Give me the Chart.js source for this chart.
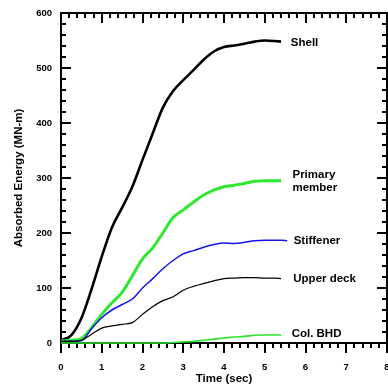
<!DOCTYPE html>
<html>
<head>
<meta charset="utf-8">
<script src="https://cdn.jsdelivr.net/npm/chart.js@4.4.0/dist/chart.umd.min.js"></script>
<style>
  html, body { margin: 0; padding: 0; background: #fff; }
  #wrap { width: 388px; height: 390px; }
</style>
</head>
<body>
<div id="wrap"><canvas id="chart" width="388" height="390"></canvas></div>
<script>
// time (sec)
const time = [0, 0.25, 0.5, 0.75, 1, 1.25, 1.5, 1.75, 2, 2.25, 2.5, 2.75, 3, 3.25, 3.5, 3.75, 4, 4.25, 4.5, 4.75, 5, 5.25, 5.4, 5.55];

// absorbed energy (MN-m)
const shell      = [5, 14, 45, 98, 157, 210, 246, 284, 333, 381, 428, 458, 478, 496, 515, 530, 538, 541, 544, 548, 550, 549, 548, null];
const primary    = [4, 5, 8, 28, 52, 73, 92, 122, 153, 173, 200, 228, 242, 256, 269, 278, 284, 287, 290, 294, 295, 295, 295, null];
const stiffener  = [3, 3, 4, 26, 46, 60, 70, 80, 100, 117, 135, 150, 162, 168, 174, 179, 182, 181, 183, 186, 187, 187, 187, 186];
const upperDeck  = [3, 3, 5, 16, 27, 31, 34, 37, 52, 66, 77, 84, 96, 103, 108, 113, 117, 118, 119, 119, 118, 118, 117, null];
const colBHD     = [0, 0, 0, 0, 0, 0, 0, 0, 0, 0, 0, 1, 2, 3, 5, 7, 9, 11, 12, 14, 14.5, 14.5, 14.5, null];

const xTicks = [0, 1, 2, 3, 4, 5, 6, 7, 8];
const yTicks = [0, 100, 200, 300, 400, 500, 600];

// end-of-curve labels: [text lines, x, y] in data units
const curveLabels = [
  [["Shell"], 5.64, 546],
  [["Primary", "member"], 5.68, 294],
  [["Stiffener"], 5.71, 185],
  [["Upper deck"], 5.70, 116],
  [["Col. BHD"], 5.66, 16]
];

const FONT = "'Liberation Sans', Arial, sans-serif";

function pts(arr) {
  return time.map((t, i) => ({ x: t, y: arr[i] })).filter(p => p.y !== null);
}

const frameTicks = {
  id: "frameTicks",
  beforeDatasetsDraw(chart) {
    const { ctx, chartArea: a, scales: { x, y } } = chart;
    ctx.save();
    ctx.strokeStyle = "#000";
    ctx.lineWidth = 2;
    ctx.strokeRect(a.left, a.top, a.right - a.left, a.bottom - a.top);

    ctx.beginPath();
    for (let i = 0; i <= 40; i++) {
      const px = Math.round(x.getPixelForValue(i * 0.2));
      const len = i % 5 === 0 ? 10 : 5;
      ctx.moveTo(px, a.bottom); ctx.lineTo(px, a.bottom + len);
      ctx.moveTo(px, a.top); ctx.lineTo(px, a.top + len);
    }
    for (let i = 0; i <= 30; i++) {
      const py = Math.round(y.getPixelForValue(i * 20));
      const len = i % 5 === 0 ? 10 : 5;
      ctx.moveTo(a.left, py); ctx.lineTo(a.left + len, py);
      ctx.moveTo(a.right, py); ctx.lineTo(a.right - len, py);
    }
    ctx.stroke();
    ctx.restore();
  },
  afterDraw(chart) {
    const { ctx, scales: { x, y } } = chart;
    ctx.save();
    ctx.fillStyle = "#000";
    ctx.font = "bold 11.5px " + FONT;
    ctx.textAlign = "left";
    ctx.textBaseline = "middle";
    curveLabels.forEach(([lines, lx, ly]) => {
      const px = x.getPixelForValue(lx);
      const py = y.getPixelForValue(ly);
      const off = (lines.length - 1) * 13 / 2;
      lines.forEach((s, k) => ctx.fillText(s, px, py - off + k * 13));
    });
    ctx.restore();
  }
};

new Chart(document.getElementById("chart"), {
  type: "line",
  data: {
    datasets: [
      { label: "Col. BHD", data: pts(colBHD), borderColor: "#2be32b", borderWidth: 1.6 },
      { label: "Upper deck", data: pts(upperDeck), borderColor: "#000000", borderWidth: 1.2 },
      { label: "Stiffener", data: pts(stiffener), borderColor: "#1414e6", borderWidth: 1.5 },
      { label: "Primary member", data: pts(primary), borderColor: "#2ee82e", borderWidth: 3 },
      { label: "Shell", data: pts(shell), borderColor: "#000000", borderWidth: 2.6 }
    ]
  },
  options: {
    responsive: false,
    animation: false,
    clip: false,
    layout: { padding: { top: 13, right: 1, left: 0, bottom: 0 } },
    elements: {
      point: { radius: 0 },
      line: { cubicInterpolationMode: "monotone", fill: false }
    },
    plugins: { legend: { display: false }, tooltip: { enabled: false } },
    scales: {
      x: {
        type: "linear",
        min: 0, max: 8,
        afterFit(s) { s.height = 47; s.paddingLeft = 0; s.paddingRight = 0; },
        afterBuildTicks(s) { s.ticks = xTicks.map(v => ({ value: v })); },
        grid: { display: false, drawTicks: false },
        border: { display: false },
        ticks: { color: "#000", padding: 19, font: { family: FONT, size: 9.5, weight: "bold" } },
        title: { display: true, text: "Time (sec)", color: "#000", padding: { top: 0, bottom: 4 },
                 font: { family: FONT, size: 11.5, weight: "bold" } }
      },
      y: {
        min: 0, max: 600,
        afterFit(s) { s.width = 61; s.paddingTop = 0; s.paddingBottom = 0; },
        afterBuildTicks(s) { s.ticks = yTicks.map(v => ({ value: v })); },
        grid: { display: false, drawTicks: false },
        border: { display: false },
        ticks: { color: "#000", padding: 9, font: { family: FONT, size: 9.5, weight: "bold" } },
        title: { display: true, text: "Absorbed Energy (MN-m)", color: "#000", padding: { top: 12, bottom: 0 },
                 font: { family: FONT, size: 11.5, weight: "bold" } }
      }
    }
  },
  plugins: [frameTicks]
});
</script>
</body>
</html>
